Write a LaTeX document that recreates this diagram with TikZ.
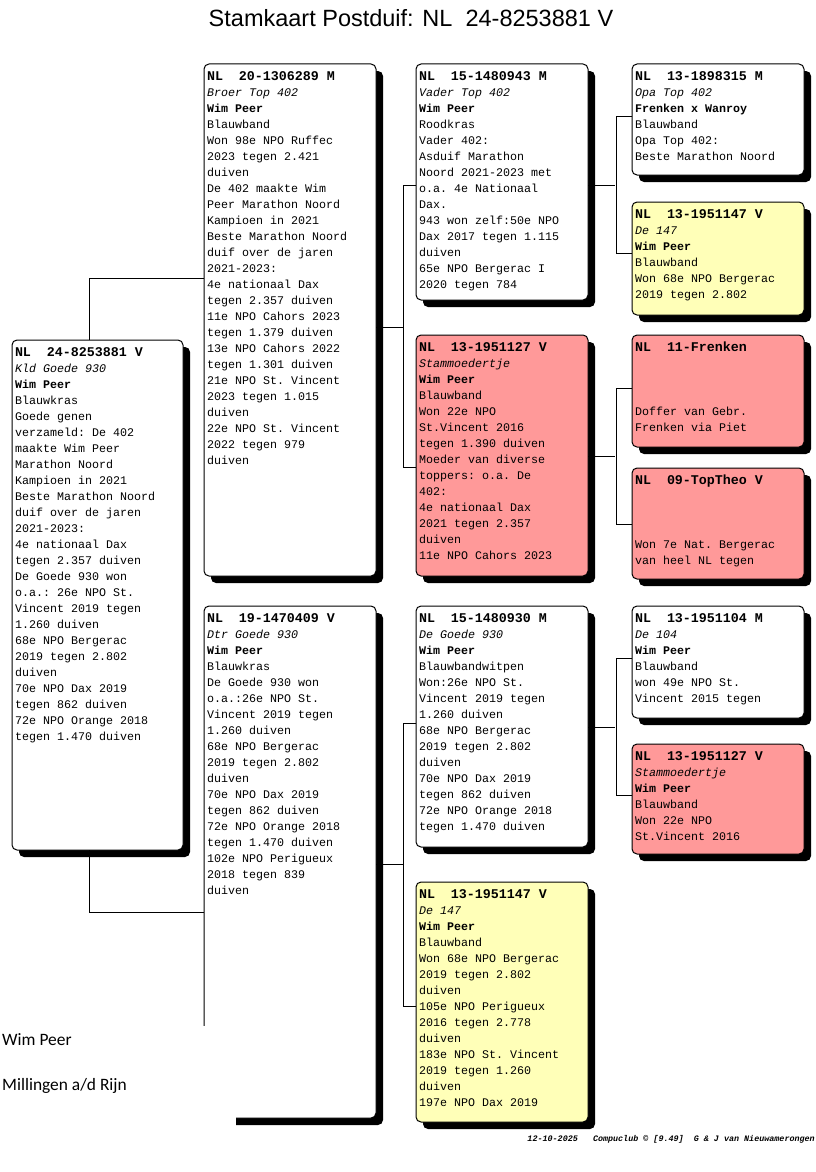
\documentclass[tikz,border=0pt]{standalone}
\usepackage{fontspec}
\setmainfont{Liberation Sans}
\setmonofont{Liberation Mono}
\newfontfamily\calib{Carlito}
\usetikzlibrary{shadows,calc}
\definecolor{pinkc}{HTML}{FF9999}
\definecolor{yelc}{HTML}{FFFFB8}
\newcommand\rl[1]{\hbox{#1}}
\newcommand\cardtext[1]{\vtop{\baselineskip=16pt\lineskiplimit=-20pt\lineskip=0pt #1}}
\newcommand\hd[1]{\rl{\fontsize{13.33}{16}\selectfont\bfseries #1}}
\newcommand\bl[1]{\rl{\bfseries #1}}
\newcommand\nm[1]{\rl{\itshape #1}}
\tikzset{
  card/.style={draw=black, line width=1pt, rounded corners=5pt, fill=white,
    anchor=north west, inner sep=0pt, outer sep=0pt, minimum width=172pt,
    drop shadow={shadow xshift=7pt, shadow yshift=-7pt, fill=black, opacity=1}},
  pinkcard/.style={card, fill=pinkc},
  yelcard/.style={card, fill=yelc},
  txt/.style={anchor=base west, inner sep=0pt, outer sep=0pt,
    font=\fontsize{11.67}{16}\selectfont\ttfamily},
  wire/.style={draw=black, line width=1pt},
}
\begin{document}
\begin{tikzpicture}[x=1pt,y=-1pt]
\useasboundingbox[fill=white] (0,0) rectangle (816,1172);

% title
\node[anchor=base, inner sep=0pt, font=\fontsize{23.5}{28}\selectfont] (title) at (411,27) {Stamkaart Postduif: NL\ \ 24-8253881 V};

% boxes
\node[card, minimum height=510pt, minimum width=171pt] (b0) at (12,340) {};
\node[card, minimum height=512pt] (b1a) at (204,64) {};
\node[card, minimum height=512pt] (b1b) at (204,606) {};
\node[card, minimum height=236pt] (b2a) at (416,64) {};
\node[pinkcard, minimum height=241pt] (b2b) at (416,335) {};
\node[card, minimum height=241pt] (b2c) at (416,606) {};
\node[yelcard, minimum height=240pt] (b2d) at (416,882) {};
\node[card, minimum height=111pt] (b3a) at (632,64) {};
\node[yelcard, minimum height=113pt] (b3b) at (632,202) {};
\node[pinkcard, minimum height=112pt] (b3c) at (632,335) {};
\node[pinkcard, minimum height=111pt] (b3d) at (632,468) {};
\node[card, minimum height=112pt] (b3e) at (632,606) {};
\node[pinkcard, minimum height=110pt] (b3f) at (632,744) {};

% connectors
\draw[wire] ($(b0.north west)+(77,0)$) |- ($(b1a.north west)+(0,214)$);
\draw[wire] ($(b0.south west)+(77,0)$) |- ($(b1b.north west)+(0,306)$);

\draw[wire] ($(b1a.north east)+(0,263)$) -- ++(27,0);
\draw[wire] ($(b2a.north west)+(0,121)$) -| ($(b2b.north west)+(-13,132)$) -- ($(b2b.north west)+(0,132)$);

\draw[wire] ($(b1b.north east)+(0,258)$) -- ++(27,0);
\draw[wire] ($(b2c.north west)+(0,117)$) -| ($(b2d.north west)+(-13,124)$) -- ($(b2d.north west)+(0,124)$);

\draw[wire] ($(b2a.north east)+(0,121)$) -- ++(27,0);
\draw[wire] ($(b3a.north west)+(0,52)$) -| ($(b3b.north west)+(-16,51)$) -- ($(b3b.north west)+(0,51)$);

\draw[wire] ($(b2b.north east)+(0,121)$) -- ++(27,0);
\draw[wire] ($(b3c.north west)+(0,53)$) -| ($(b3d.north west)+(-16,56)$) -- ($(b3d.north west)+(0,56)$);

\draw[wire] ($(b2c.north east)+(0,121)$) -- ++(27,0);
\draw[wire] ($(b3e.north west)+(0,52)$) -| ($(b3f.north west)+(-16,51)$) -- ($(b3f.north west)+(0,51)$);

% texts
\node[txt] (t0) at ($(b0.north west)+(3,16.5)$) {\cardtext{%
\hd{NL\ \ 24-8253881 V}\nm{Kld Goede 930}\bl{Wim Peer}\rl{Blauwkras}%
\rl{Goede genen}\rl{verzameld: De 402}\rl{maakte Wim Peer}\rl{Marathon Noord}%
\rl{Kampioen in 2021}\rl{Beste Marathon Noord}\rl{duif over de jaren}\rl{2021-2023:}%
\rl{4e nationaal Dax}\rl{tegen 2.357 duiven}\rl{De Goede 930 won}\rl{o.a.: 26e NPO St.}%
\rl{Vincent 2019 tegen}\rl{1.260 duiven}\rl{68e NPO Bergerac}\rl{2019 tegen 2.802}%
\rl{duiven}\rl{70e NPO Dax 2019}\rl{tegen 862 duiven}\rl{72e NPO Orange 2018}\rl{tegen 1.470 duiven}}};

\node[txt] (t1a) at ($(b1a.north west)+(3,16.5)$) {\cardtext{%
\hd{NL\ \ 20-1306289 M}\nm{Broer Top 402}\bl{Wim Peer}\rl{Blauwband}%
\rl{Won 98e NPO Ruffec}\rl{2023 tegen 2.421}\rl{duiven}\rl{De 402 maakte Wim}%
\rl{Peer Marathon Noord}\rl{Kampioen in 2021}\rl{Beste Marathon Noord}\rl{duif over de jaren}%
\rl{2021-2023:}\rl{4e nationaal Dax}\rl{tegen 2.357 duiven}\rl{11e NPO Cahors 2023}%
\rl{tegen 1.379 duiven}\rl{13e NPO Cahors 2022}\rl{tegen 1.301 duiven}\rl{21e NPO St. Vincent}%
\rl{2023 tegen 1.015}\rl{duiven}\rl{22e NPO St. Vincent}\rl{2022 tegen 979}\rl{duiven}}};

\node[txt] (t1b) at ($(b1b.north west)+(3,16.5)$) {\cardtext{%
\hd{NL\ \ 19-1470409 V}\nm{Dtr Goede 930}\bl{Wim Peer}\rl{Blauwkras}%
\rl{De Goede 930 won}\rl{o.a.:26e NPO St.}\rl{Vincent 2019 tegen}\rl{1.260 duiven}%
\rl{68e NPO Bergerac}\rl{2019 tegen 2.802}\rl{duiven}\rl{70e NPO Dax 2019}%
\rl{tegen 862 duiven}\rl{72e NPO Orange 2018}\rl{tegen 1.470 duiven}\rl{102e NPO Perigueux}%
\rl{2018 tegen 839}\rl{duiven}}};

\node[txt] (t2a) at ($(b2a.north west)+(3,16.5)$) {\cardtext{%
\hd{NL\ \ 15-1480943 M}\nm{Vader Top 402}\bl{Wim Peer}\rl{Roodkras}%
\rl{Vader 402:}\rl{Asduif Marathon}\rl{Noord 2021-2023 met}\rl{o.a. 4e Nationaal}%
\rl{Dax.}\rl{943 won zelf:50e NPO}\rl{Dax 2017 tegen 1.115}\rl{duiven}%
\rl{65e NPO Bergerac I}\rl{2020 tegen 784}}};

\node[txt] (t2b) at ($(b2b.north west)+(3,16.5)$) {\cardtext{%
\hd{NL\ \ 13-1951127 V}\nm{Stammoedertje}\bl{Wim Peer}\rl{Blauwband}%
\rl{Won 22e NPO}\rl{St.Vincent 2016}\rl{tegen 1.390 duiven}\rl{Moeder van diverse}%
\rl{toppers: o.a. De}\rl{402:}\rl{4e nationaal Dax}\rl{2021 tegen 2.357}%
\rl{duiven}\rl{11e NPO Cahors 2023}}};

\node[txt] (t2c) at ($(b2c.north west)+(3,16.5)$) {\cardtext{%
\hd{NL\ \ 15-1480930 M}\nm{De Goede 930}\bl{Wim Peer}\rl{Blauwbandwitpen}%
\rl{Won:26e NPO St.}\rl{Vincent 2019 tegen}\rl{1.260 duiven}\rl{68e NPO Bergerac}%
\rl{2019 tegen 2.802}\rl{duiven}\rl{70e NPO Dax 2019}\rl{tegen 862 duiven}%
\rl{72e NPO Orange 2018}\rl{tegen 1.470 duiven}}};

\node[txt] (t2d) at ($(b2d.north west)+(3,16.5)$) {\cardtext{%
\hd{NL\ \ 13-1951147 V}\nm{De 147}\bl{Wim Peer}\rl{Blauwband}%
\rl{Won 68e NPO Bergerac}\rl{2019 tegen 2.802}\rl{duiven}\rl{105e NPO Perigueux}%
\rl{2016 tegen 2.778}\rl{duiven}\rl{183e NPO St. Vincent}\rl{2019 tegen 1.260}%
\rl{duiven}\rl{197e NPO Dax 2019}}};

\node[txt] (t3a) at ($(b3a.north west)+(3,16.5)$) {\cardtext{%
\hd{NL\ \ 13-1898315 M}\nm{Opa Top 402}\bl{Frenken x Wanroy}\rl{Blauwband}%
\rl{Opa Top 402:}\rl{Beste Marathon Noord}}};

\node[txt] (t3b) at ($(b3b.north west)+(3,16.5)$) {\cardtext{%
\hd{NL\ \ 13-1951147 V}\nm{De 147}\bl{Wim Peer}\rl{Blauwband}%
\rl{Won 68e NPO Bergerac}\rl{2019 tegen 2.802}}};

\node[txt] (t3c) at ($(b3c.north west)+(3,16.5)$) {\cardtext{%
\hd{NL\ \ 11-Frenken}\rl{}\rl{}\rl{}%
\rl{Doffer van Gebr.}\rl{Frenken via Piet}}};

\node[txt] (t3d) at ($(b3d.north west)+(3,16.5)$) {\cardtext{%
\hd{NL\ \ 09-TopTheo V}\rl{}\rl{}\rl{}%
\rl{Won 7e Nat. Bergerac}\rl{van heel NL tegen}}};

\node[txt] (t3e) at ($(b3e.north west)+(3,16.5)$) {\cardtext{%
\hd{NL\ \ 13-1951104 M}\nm{De 104}\bl{Wim Peer}\rl{Blauwband}%
\rl{won 49e NPO St.}\rl{Vincent 2015 tegen}}};

\node[txt] (t3f) at ($(b3f.north west)+(3,16.5)$) {\cardtext{%
\hd{NL\ \ 13-1951127 V}\nm{Stammoedertje}\bl{Wim Peer}\rl{Blauwband}%
\rl{Won 22e NPO}\rl{St.Vincent 2016}}};

% white area over lower left part of card b1b
\fill[white] (0,1026) rectangle (236,1172);

% owner
\node[anchor=base west, inner sep=0pt, font=\fontsize{17.4}{20}\selectfont\calib] (own1) at (2,1045) {Wim Peer};
\node[anchor=base west, inner sep=0pt, font=\fontsize{17.4}{20}\selectfont\calib] (own2) at (2,1090) {Millingen a/d Rijn};

% footer
\node[anchor=base east, inner sep=0pt, font=\fontsize{8.4}{10}\selectfont\ttfamily\bfseries\itshape] (foot) at (815,1141) {12-10-2025\ \ \ Compuclub © [9.49]\ \ G \& J van Nieuwamerongen};
\end{tikzpicture}
\end{document}
